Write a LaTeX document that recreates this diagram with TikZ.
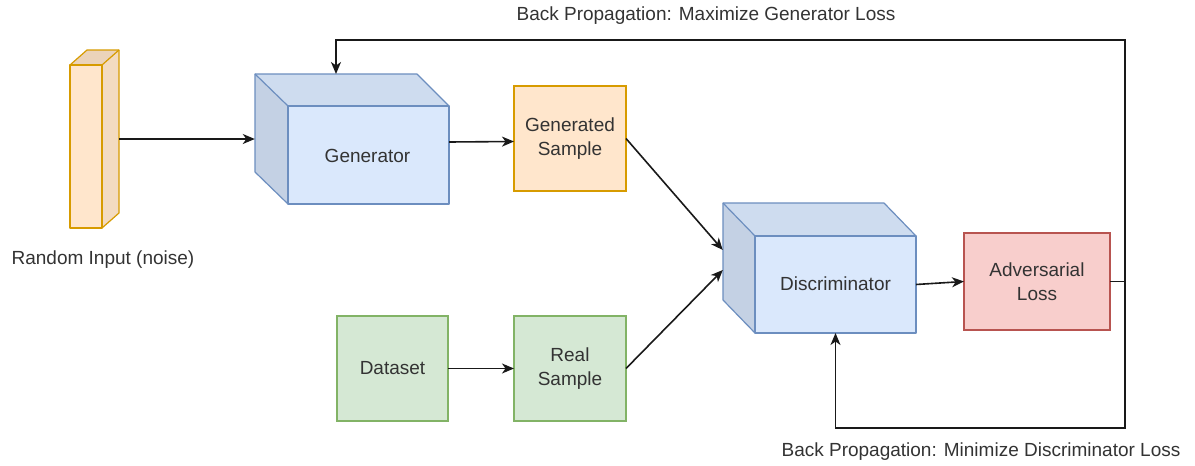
\documentclass[tikz,border=0pt]{standalone}
\usepackage{fontspec}
\setmainfont{Liberation Sans}
\usetikzlibrary{arrows.meta,fit,calc}
\definecolor{txt}{HTML}{333333}
\definecolor{bluefill}{HTML}{DAE8FC}
\definecolor{bluetop}{HTML}{CEDCEF}
\definecolor{blueside}{HTML}{C4D1E4}
\definecolor{bluedraw}{HTML}{6C8EBF}
\definecolor{orfill}{HTML}{FFE6CC}
\definecolor{ortop}{HTML}{EBD3BA}
\definecolor{orside}{HTML}{F3DBC1}
\definecolor{ordraw}{HTML}{D79B00}
\definecolor{grfill}{HTML}{D5E8D4}
\definecolor{grdraw}{HTML}{82B366}
\definecolor{rdfill}{HTML}{F8CECC}
\definecolor{rddraw}{HTML}{B85450}
\tikzset{
  lbl/.style={text=txt,font=\fontsize{19}{24}\selectfont,align=center},
  face/.style={line width=1.2pt,line join=round},
  ghost/.style={inner sep=0pt,outer sep=0pt,anchor=north west},
  boxnode/.style={lbl,line width=1.2pt,inner sep=0pt,outer sep=0pt,anchor=north west},
  orbox/.style={boxnode,draw=ordraw,fill=orfill},
  grbox/.style={boxnode,draw=grdraw,fill=grfill},
  rdbox/.style={boxnode,draw=rddraw,fill=rdfill},
  conn/.style={line width=1.6pt,draw=black!90},
  arr/.style={conn,-{Stealth[length=12pt,width=10pt,inset=3.5pt]}},
}
\begin{document}
\begin{tikzpicture}[x=1pt,y=-1pt]
\useasboundingbox (0,0) rectangle (1195,466);

% noise input: a thin prism
\node[ghost,minimum width=32pt,minimum height=163pt] (nb) at (87,50) {};
\node[ghost,minimum width=32pt,minimum height=163pt] (nf) at (70,65) {};
\fill[orside] (nf.north east) -- (nb.north east) -- (nb.south east) -- (nf.south east) -- cycle;
\fill[ortop] (nb.north west) -- (nb.north east) -- (nf.north east) -- (nf.north west) -- cycle;
\draw[face,draw=ordraw,fill=orfill] (nf.north west) rectangle (nf.south east);
\draw[face,draw=ordraw] (nf.north west) -- (nb.north west) -- (nb.north east) -- (nb.south east) -- (nf.south east);
\draw[face,draw=ordraw] (nf.north east) -- (nb.north east);
\node[fit=(nb)(nf),inner sep=0pt] (noise) {};
\node[lbl] (noiselbl) at (103,260) {Random Input (noise)};

% generator block
\node[ghost,minimum width=162pt,minimum height=98pt] (gb) at (255,74) {};
\node[ghost,minimum width=161pt,minimum height=98pt] (gf) at (288,106) {};
\fill[bluefill] (gf.north west) rectangle (gf.south east);
\fill[blueside] (gb.north west) -- (gf.north west) -- (gf.south west) -- (gb.south west) -- cycle;
\fill[bluetop] (gb.north west) -- (gb.north east) -- (gf.north east) -- (gf.north west) -- cycle;
\draw[face,draw=bluedraw] (gf.south west) -- (gb.south west) -- (gb.north west) -- (gb.north east) -- (gf.north east);
\draw[face,draw=bluedraw] (gb.north west) -- (gf.north west);
\draw[face,draw=bluedraw] (gf.north west) rectangle (gf.south east);
\node[lbl] at ($(gf.center)+(-1,1)$) {Generator};
\node[fit=(gb)(gf),inner sep=0pt] (gen) {};

% discriminator block
\node[ghost,minimum width=161pt,minimum height=97pt] (db) at (723,203) {};
\node[ghost,minimum width=161pt,minimum height=97pt] (df) at (755,236) {};
\fill[bluefill] (df.north west) rectangle (df.south east);
\fill[blueside] (db.north west) -- (df.north west) -- (df.south west) -- (db.south west) -- cycle;
\fill[bluetop] (db.north west) -- (db.north east) -- (df.north east) -- (df.north west) -- cycle;
\draw[face,draw=bluedraw] (df.south west) -- (db.south west) -- (db.north west) -- (db.north east) -- (df.north east);
\draw[face,draw=bluedraw] (db.north west) -- (df.north west);
\draw[face,draw=bluedraw] (df.north west) rectangle (df.south east);
\node[lbl] at ($(df.center)+(0,-1)$) {Discriminator};
\node[fit=(db)(df),inner sep=0pt] (disc) {};

% sample and data boxes
\node[orbox,minimum width=112pt,minimum height=105pt] (gs) at (514,86) {Generated\\Sample};
\node[grbox,minimum width=111pt,minimum height=105pt] (ds) at (337,316) {Dataset};
\node[grbox,minimum width=112pt,minimum height=105pt] (rs) at (514,316) {Real\\Sample};
\node[rdbox,minimum width=146pt,minimum height=97pt] (adv) at (964,233) {Adversarial\\Loss};

% forward connectors
\draw[arr] (noise.east) -- (gen.west);
\draw[arr] ($(gen.east)+(0,3)$) -- ($(gs.west)+(0,3)$);
\draw[arr] (gs.east) -- ($(disc.west)+(0,-18)$);
\draw[arr] (ds.east) -- (rs.west);
\draw[arr] (rs.east) -- ($(disc.west)+(0,2)$);
\draw[arr] (df.east) -- (adv.west);

% feedback loops
\coordinate (jn) at (1125,281.5);
\coordinate (tr) at (1125,40);
\coordinate (br) at (1125,428);
\draw[conn] (adv.east) -- (jn);
\draw[arr] (jn) -- (tr) -| (gb.north);
\draw[arr] (jn) -- (br) -| (df.south);
\node[lbl] (toplbl) at (706,16) {Back Propagation: Maximize Generator Loss};
\node[lbl] (botlbl) at (981,452) {Back Propagation: Minimize Discriminator Loss};
\end{tikzpicture}
\end{document}
